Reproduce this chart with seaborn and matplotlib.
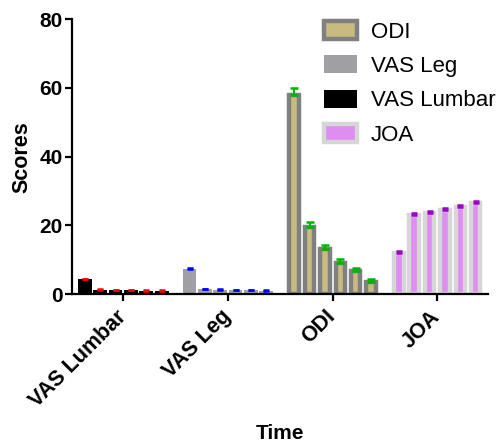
import pandas as pd
import matplotlib.pyplot as plt
import seaborn as sns
import numpy as np
from matplotlib.patches import Patch

# Estilo
sns.set_theme(style="ticks")
plt.rcParams['font.family'] = ['Liberation Sans', 'DejaVu Sans']
plt.rcParams['text.color'] = 'black'
plt.rcParams['axes.labelcolor'] = 'black'
plt.rcParams['xtick.color'] = 'black'
plt.rcParams['ytick.color'] = 'black'

# Dados
measures = ["VAS Lumbar", "VAS Leg", "ODI", "JOA"]
timepoints = ["T0", "T1", "T2", "T3", "T4", "T5"]

vas_lumbar = [4.3, 1.3, 1.2, 1.1, 1.0, 1.0]
vas_lumbar_err = [0.25, 0.12, 0.12, 0.12, 0.12, 0.12]
vas_leg = [7.3, 1.5, 1.3, 1.2, 1.1, 1.0]
vas_leg_err = [0.2, 0.12, 0.12, 0.12, 0.12, 0.12]
odi = [58.0, 19.6, 13.1, 9.2, 6.7, 3.4]
odi_err = [2.0, 1.4, 1.1, 1.1, 1.0, 0.9]
joa = [11.9, 23.0, 23.5, 24.6, 25.4, 26.4]
joa_err = [0.6, 0.6, 0.6, 0.6, 0.6, 0.6]

legend_order = ["ODI", "VAS Leg", "VAS Lumbar", "JOA"]

# Cores de cada medida
fills = {"VAS Lumbar": "#000000", "VAS Leg": "#a0a0a4", "ODI": "#c8bb80", "JOA": "#df8cf3"}
edges = {"VAS Lumbar": "#000000", "VAS Leg": "#a0a0a4", "ODI": "#808080", "JOA": "#d6d6d6"}
edge_lw = {"VAS Lumbar": 0.0, "VAS Leg": 0.0, "ODI": 3.2, "JOA": 3.2}
err_colors = {"VAS Lumbar": "#ff0000", "VAS Leg": "#0000ff", "ODI": "#00b400", "JOA": "#9a00c8"}

values = {"VAS Lumbar": vas_lumbar, "VAS Leg": vas_leg, "ODI": odi, "JOA": joa}
errors = {"VAS Lumbar": vas_lumbar_err, "VAS Leg": vas_leg_err, "ODI": odi_err, "JOA": joa_err}

rows = []
for m in measures:
    for t, v in zip(timepoints, values[m]):
        rows.append({"Measure": m, "Time": t, "Score": v})
data = pd.DataFrame(rows)

fig = plt.figure(figsize=(5.02, 4.45), dpi=100)
ax = fig.add_axes([0.1444, 0.339, 0.8276, 0.618])

group_width = 0.88
sns.barplot(data=data, x="Measure", y="Score", hue="Time", order=measures,
            hue_order=timepoints, errorbar=None, width=group_width,
            legend=False, ax=ax)

xlim = (-0.485, 3.485)
ax.set_xlim(*xlim)
ax.set_ylim(0, 80)

# px -> unidades de dados no eixo x
ax_w_px = 0.8276 * 502
px_to_data = (xlim[1] - xlim[0]) / ax_w_px
slot = group_width / len(timepoints)
gap = 1.5 * px_to_data

# Recolorir barras e ajustar larguras
for ti, cont in enumerate(ax.containers):
    for mi, bar in enumerate(cont):
        m = measures[mi]
        lw = edge_lw[m]
        lw_data = lw * 100 / 72 * px_to_data
        center = bar.get_x() + bar.get_width() / 2
        w = slot - gap - lw_data
        bar.set_x(center - w / 2)
        bar.set_width(w)
        bar.set_facecolor(fills[m])
        bar.set_edgecolor(edges[m])
        bar.set_linewidth(lw)

# Barras de erro (somente para cima)
for mi, m in enumerate(measures):
    xs = [ax.containers[ti][mi].get_x() + ax.containers[ti][mi].get_width() / 2
          for ti in range(len(timepoints))]
    ys = [ax.containers[ti][mi].get_height() for ti in range(len(timepoints))]
    cap = 2.6 if m == "ODI" else 1.9
    ax.errorbar(xs, ys, yerr=[np.zeros(len(ys)), errors[m]], fmt='none',
                ecolor=err_colors[m], elinewidth=1.5, capsize=cap, capthick=1.8,
                zorder=4)

# Eixos
sns.despine(ax=ax)
ax.spines['left'].set_linewidth(1.6)
ax.spines['bottom'].set_linewidth(1.6)
ax.spines['left'].set_color('black')
ax.spines['bottom'].set_color('black')
ax.set_yticks([0, 20, 40, 60, 80])
ax.tick_params(axis='both', direction='out', length=5, width=1.6, color='black',
               labelsize=15, pad=2)
for lab in ax.get_yticklabels():
    lab.set_fontweight('bold')
ax.set_xticks(range(len(measures)))
ax.set_xticklabels(measures, rotation=45, ha='right', va='center',
                   rotation_mode='anchor', fontweight='bold', fontsize=15.5)
ax.tick_params(axis='x', pad=9)
ax.set_xlabel("Time", fontsize=15, fontweight='bold', va='center')
ax.xaxis.set_label_coords(0.5, -0.505)
ax.set_ylabel("Scores", fontsize=15.5, fontweight='bold', labelpad=5)

# Legenda
handles = [Patch(facecolor=fills[m], edgecolor=edges[m],
                 linewidth=edge_lw[m] if edge_lw[m] > 0 else 0.0, label=m)
           for m in legend_order]
ax.legend(handles=handles, loc='upper left', bbox_to_anchor=(324 / 502, 1 - 21 / 445),
          bbox_transform=fig.transFigure, frameon=False, fontsize=16,
          handlelength=1.5, handleheight=0.85, handletextpad=0.62,
          labelspacing=0.58, borderpad=0, borderaxespad=0)

fig.savefig("out.png", dpi=100)
plt.close()
